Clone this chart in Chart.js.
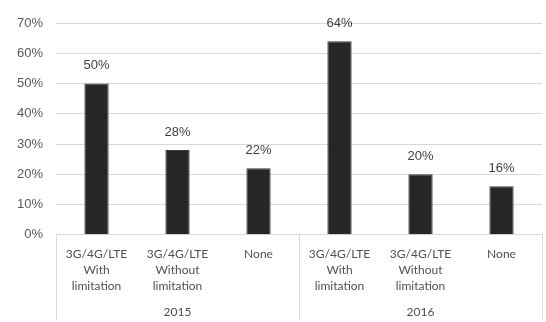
<!DOCTYPE html>
<html>
<head>
<meta charset="utf-8">
<script src="https://cdn.jsdelivr.net/npm/chart.js@4/dist/chart.umd.min.js"></script>
<style>
  html, body { margin: 0; padding: 0; background: #fff; }
  #wrap { width: 546px; height: 322px; }
</style>
</head>
<body>
<div id="wrap"><canvas id="chart"></canvas></div>
<script>
const categories = [
  ['3G/4G/LTE', 'With', 'limitation'],
  ['3G/4G/LTE', 'Without', 'limitation'],
  ['None'],
  ['3G/4G/LTE', 'With', 'limitation'],
  ['3G/4G/LTE', 'Without', 'limitation'],
  ['None']
]
const years = ['2015', '2016']
const shares = [50, 28, 22, 64, 20, 16]
const yTicks = [0, 10, 20, 30, 40, 50, 60, 70]

// value labels above each bar
const valueLabels = {
  id: 'valueLabels',
  afterDatasetsDraw(chart) {
    const ctx = chart.ctx
    const meta = chart.getDatasetMeta(0)
    ctx.save()
    ctx.font = '13px "Liberation Sans", Arial, sans-serif'
    ctx.fillStyle = '#404040'
    ctx.textAlign = 'center'
    ctx.textBaseline = 'middle'
    meta.data.forEach((bar, i) => {
      ctx.fillText(shares[i] + '%', bar.x, bar.y - 18)
    })
    ctx.restore()
  }
}

// year groups box under the axis
const yearGroups = {
  id: 'yearGroups',
  afterDraw(chart) {
    const ctx = chart.ctx
    const x = chart.scales.x
    const top = chart.chartArea.bottom
    const bottom = chart.height - 2
    const perYear = categories.length / years.length
    ctx.save()
    ctx.strokeStyle = '#d9d9d9'
    ctx.lineWidth = 1
    ctx.font = '12px Lato, "Liberation Sans", sans-serif'
    ctx.fillStyle = '#505050'
    ctx.textAlign = 'center'
    ctx.textBaseline = 'middle'
    const step = x.getPixelForValue(1) - x.getPixelForValue(0)
    for (let g = 0; g <= years.length; g++) {
      const px = Math.round(x.getPixelForValue(g * perYear) - step / 2) + 0.5
      ctx.beginPath()
      ctx.moveTo(px, top)
      ctx.lineTo(px, bottom)
      ctx.stroke()
    }
    years.forEach((yr, g) => {
      const cx = (x.getPixelForValue(g * perYear) + x.getPixelForValue((g + 1) * perYear - 1)) / 2
      ctx.fillText(yr, cx, 312)
    })
    ctx.restore()
  }
}

new Chart(document.getElementById('chart'), {
  type: 'bar',
  data: {
    labels: categories,
    datasets: [{
      data: shares,
      backgroundColor: '#262626',
      borderColor: '#3a3a3a',
      borderWidth: 1,
      categoryPercentage: 1,
      barPercentage: 0.3
    }]
  },
  options: {
    responsive: true,
    maintainAspectRatio: false,
    animation: false,
    layout: { padding: { top: 23, right: 4, bottom: 17, left: 4 } },
    plugins: {
      legend: { display: false },
      tooltip: { enabled: false }
    },
    scales: {
      x: {
        grid: { display: false, drawTicks: false },
        border: { display: true, color: '#d9d9d9' },
        ticks: {
          color: '#505050',
          font: { family: 'Lato, "Liberation Sans", sans-serif', size: 12, lineHeight: 1.34 },
          padding: 11,
          maxRotation: 0,
          autoSkip: false
        }
      },
      y: {
        min: 0,
        max: 70,
        afterBuildTicks(axis) { axis.ticks = yTicks.map(v => ({ value: v })) },
        grid: { color: '#d9d9d9', drawTicks: false },
        border: { display: false },
        ticks: {
          color: '#595959',
          font: { family: '"Liberation Sans", Arial, sans-serif', size: 13 },
          padding: 13,
          callback: v => v + '%'
        }
      }
    }
  },
  plugins: [valueLabels, yearGroups]
})
</script>
</body>
</html>
